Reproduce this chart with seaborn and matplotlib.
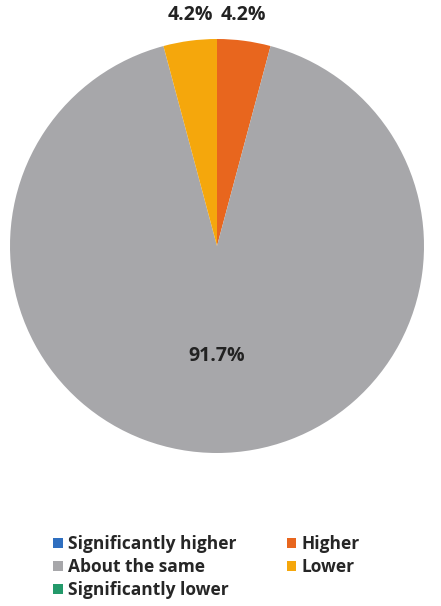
import numpy as np
import matplotlib
matplotlib.use("Agg")
import matplotlib.pyplot as plt
import seaborn as sns
from matplotlib.patches import Patch

categories = ["Significantly higher", "Higher", "About the same", "Lower", "Significantly lower"]
counts = [0, 1, 22, 1, 0]
colors = ["#2f6fc0", "#e8661e", "#a7a7aa", "#f5a70c", "#23996a"]

sns.set_theme(style="white")
plt.rcParams['font.family'] = ['Open Sans', 'DejaVu Sans']

fig = plt.figure(figsize=(4.41, 6.06), dpi=100)
cx, cy, r = 217, 246, 207
ax = fig.add_axes([(cx - r) / 441, 1 - (cy + r) / 606, 2 * r / 441, 2 * r / 606])

def fmt(p):
    return f"{p:.1f}%" if p > 0.01 else ""

wedges, texts, autotexts = ax.pie(counts, colors=colors, startangle=90, counterclock=False,
                                  autopct=fmt, pctdistance=0.53,
                                  wedgeprops=dict(linewidth=0, edgecolor="none"),
                                  textprops=dict(fontsize=14, fontweight="bold", color="#222222"))
# small slices: move labels above the rim
for w, t in zip(wedges, autotexts):
    if t.get_text() and (w.theta2 - w.theta1) < 30:
        ang = np.deg2rad((w.theta1 + w.theta2) / 2)
        t.set_position((0.99 * np.cos(ang), 1.115))
ax.set_aspect("equal")
ax.set_xlim(-1, 1)
ax.set_ylim(-1, 1)
ax.axis("off")

# legend row-major order
order = [0, 2, 4, 1, 3]
handles = [Patch(facecolor=colors[i], edgecolor="none") for i in order]
labels = [categories[i] for i in order]
fig.legend(handles, labels, ncol=2, loc="lower left", bbox_to_anchor=(0.105, 0.0),
           frameon=False, prop=dict(size=12.5, weight="bold"), handlelength=0.55, handleheight=0.55,
           handletextpad=0.3, columnspacing=2.9, labelspacing=0.28, borderaxespad=0)

fig.savefig("out.png", dpi=100)
